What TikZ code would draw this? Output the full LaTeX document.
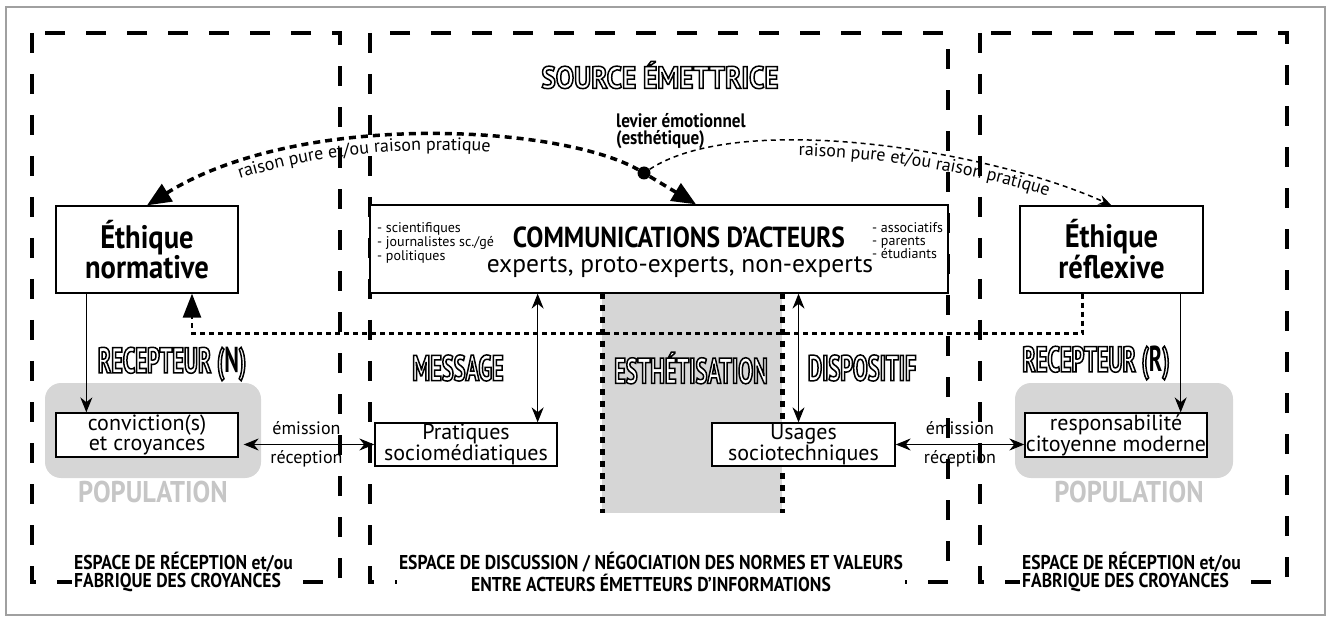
\documentclass[tikz,border=0pt]{standalone}
\usepackage{fontspec}
\setmainfont{PT Sans}
\newfontfamily\condfont[FakeStretch=0.88]{PT Sans}
\newfontfamily\titrefont[FakeStretch=0.62]{PT Sans}
\usetikzlibrary{arrows.meta,decorations.text}

\definecolor{grisfond}{RGB}{214,214,214}
\definecolor{grispop}{RGB}{198,198,198}
\definecolor{griscadre}{RGB}{160,160,160}

% outlined letters: white fill, black stroke
\newcommand{\creux}[1]{\textcolor{white}{\special{pdf:literal direct 2 Tr 1.5 w 0 G}#1\special{pdf:literal direct 0 Tr}}}
\newcommand{\raisonfont}{\fontsize{18}{18}\selectfont}

\tikzset{
  espace/.style={line width=4pt, dash pattern=on 20pt off 21pt},
  boite/.style={draw, line width=1.3pt, fill=white, inner sep=0pt},
  colonne/.style={line width=5pt, dash pattern=on 6pt off 6pt},
  gros/.style={line width=3.5pt, dash pattern=on 7pt off 5pt},
  retour/.style={line width=2.5pt, dash pattern=on 5pt off 4pt},
  leger/.style={line width=1.5pt, dash pattern=on 5pt off 4pt},
  fin/.style={line width=1.2pt},
  titre/.style={font=\titrefont\bfseries\fontsize{36}{36}\selectfont},
  texte/.style={font=\fontsize{22}{17.5}\selectfont},
  bas/.style={fill=white, inner sep=2pt, font=\condfont\bfseries\fontsize{20}{17}\selectfont},
  population/.style={text=grispop, font=\condfont\bfseries\fontsize{30}{30}\selectfont},
}

\begin{document}
\begin{tikzpicture}[x=1pt,y=-1pt]
  \useasboundingbox (0,0) rectangle (1330,617);

  % Drawing frame
  \draw [griscadre, line width=2pt] (6,7) rectangle (1325,615);%

  % Drawing column of esthetisation
  \fill [grisfond] (602,293) rectangle (782,513);%
  \draw [colonne] (602,293) -- (602,513);%
  \draw [colonne] (782,293) -- (782,513);%

  % Drawing zones of population
  \fill [grisfond, rounded corners=16pt] (45,383) rectangle (261,478);%
  \fill [grisfond, rounded corners=16pt] (1015,383) rectangle (1233,478);%

  % Drawing the three spaces
  \draw [espace] (32,33) rectangle (340,582);%
  \draw [espace] (370,33) rectangle (948,582);%
  \draw [espace] (980,33) rectangle (1287,582);%

  % Marking titles
  \node [font=\condfont\bfseries\fontsize{31}{31}\selectfont] (source) at (660,75) {\creux{SOURCE ÉMETTRICE}};%
  \node [titre] (recN) at (172,364) {\creux{RECEPTEUR (}N\creux{)}};%
  \node [titre] (message) at (458,368) {\creux{MESSAGE}};%
  \node [titre] (esthet) at (691,368) {\creux{ESTHÉTISATION}};%
  \node [titre] (dispo) at (862,368) {\creux{DISPOSITIF}};%
  \node [titre] (recR) at (1096,363) {\creux{RECEPTEUR (}R\creux{)}};%

  % Drawing boxes
  \node [boite, minimum width=182pt, minimum height=87pt, align=center, font=\condfont\bfseries\fontsize{32.5}{27}\selectfont] (ethN) at (147,249.5) {Éthique\\normative};%
  \node [boite, minimum width=578pt, minimum height=88pt] (comm) at (659,249) {};%
  \node [font=\condfont\bfseries\fontsize{29}{29}\selectfont] (commtitre) at (679,237) {COMMUNICATIONS D’ACTEURS};%
  \node [font=\fontsize{25.5}{25.5}\selectfont] (commsous) at (680,267) {experts, proto-experts, non-experts};%
  \node [anchor=west, align=left, inner sep=0pt, font=\fontsize{14}{12.5}\selectfont] (listeA) at (377,243) {- scientifiques\\- journalistes sc./gé\\- politiques};%
  \node [anchor=west, align=left, inner sep=0pt, font=\fontsize{14}{13}\selectfont] (listeB) at (872,241) {- associatifs\\- parents\\- étudiants};%
  \node [boite, minimum width=183pt, minimum height=87pt, align=center, font=\condfont\bfseries\fontsize{32.5}{27}\selectfont] (ethR) at (1111.5,249.5) {Éthique\\réflexive};%

  \node [boite, texte, minimum width=182pt, minimum height=44pt, align=center] (conv) at (147,435) {conviction(s)\\et croyances};%
  \node [boite, texte, minimum width=182pt, minimum height=43pt, align=center] (prat) at (466,444.5) {Pratiques\\sociomédiatiques};%
  \node [boite, texte, minimum width=183pt, minimum height=43pt, align=center] (usag) at (803.5,444.5) {Usages\\sociotechniques};%
  \node [boite, texte, minimum width=182pt, minimum height=44pt, align=center] (resp) at (1116,435) {responsabilité\\citoyenne moderne};%

  % Marking population
  \node [population] (popN) at (153,492) {POPULATION};%
  \node [population] (popR) at (1129,492) {POPULATION};%

  % Marking levier by dot
  \node [circle, fill, inner sep=0pt, minimum size=13pt] (levier) at (644,173) {};%
  \node [anchor=west, align=left, inner sep=0pt, font=\condfont\bfseries\fontsize{19.5}{17}\selectfont] (levtxt) at (616,131) {levier émotionnel\\(esthétique)};%

  % Drawing arcs of raison
  \draw [gros, -{Triangle[length=24pt,width=20pt]}] (levier) -- ([xshift=37pt]comm.north);%
  \draw [gros, {Triangle[length=24pt,width=20pt]}-] (ethN.north) .. controls (300,110) and (560,125) .. (levier);%
  \path [decorate, decoration={text along path, text={|\raisonfont|raison pure et/ou raison pratique}, text align={align=left, left indent=102pt}}] ([yshift=-15pt]ethN.north) .. controls (300,125) and (560,140) .. ([yshift=-15pt]levier.center);%
  \draw [leger, -{Stealth[length=13pt,width=10pt]}] (levier) .. controls (740,110) and (990,150) .. (ethR.north);%
  \path [decorate, decoration={text along path, text={|\raisonfont|raison pure et/ou raison pratique}, text align={align=left, left indent=160pt}}] ([yshift=-15pt]levier.center) .. controls (740,125) and (990,165) .. ([yshift=-15pt]ethR.north);%

  % Drawing line of retour
  \draw [retour, -{Triangle[length=24pt,width=18pt]}] ([xshift=-29pt]ethR.south) -- ++(0,40) -| ([xshift=45pt]ethN.south);%

  % Drawing thin arrows
  \draw [fin, -{Stealth[length=15pt,width=12pt]}] ([xshift=31pt]ethN.south west) -- ([xshift=31pt]conv.north west);%
  \draw [fin, -{Stealth[length=15pt,width=12pt]}] ([xshift=-23pt]ethR.south east) -- ([xshift=-23pt]ethR.south east |- resp.north);%
  \draw [fin, {Stealth[length=15pt,width=12pt]}-{Stealth[length=15pt,width=12pt]}] ([xshift=-20pt]prat.north east) -- ([xshift=-20pt]prat.north east |- comm.south);%
  \draw [fin, {Stealth[length=15pt,width=12pt]}-{Stealth[length=15pt,width=12pt]}] ([xshift=-5pt]usag.north) -- ([xshift=-5pt]usag.north |- comm.south);%
  \draw [fin, {Stealth[length=15pt,width=12pt]}-{Stealth[length=15pt,width=12pt]}, shorten <=5pt] (prat.west -| conv.east) -- (prat.west)
    node [midway, above=6pt, font=\fontsize{18}{18}\selectfont] {émission}
    node [midway, below=2pt, font=\fontsize{18}{18}\selectfont] {réception};%
  \draw [fin, {Stealth[length=15pt,width=12pt]}-{Stealth[length=15pt,width=12pt]}] (usag.east) -- (usag.east -| resp.west)
    node [midway, above=6pt, font=\fontsize{18}{18}\selectfont] {émission}
    node [midway, below=2pt, font=\fontsize{18}{18}\selectfont] {réception};%

  % Marking the spaces
  \node [bas, anchor=west, align=left] (espN) at (72,572) {ESPACE DE RÉCEPTION et/ou\\FABRIQUE DES CROYANCES};%
  \node [bas, align=center] (espM) at (651,572) {ESPACE DE DISCUSSION / NÉGOCIATION DES NORMES ET VALEURS\\ENTRE ACTEURS ÉMETTEURS D’INFORMATIONS};%
  \node [bas, anchor=west, align=left] (espR) at (1020,572) {ESPACE DE RÉCEPTION et/ou\\FABRIQUE DES CROYANCES};%
\end{tikzpicture}
\end{document}
